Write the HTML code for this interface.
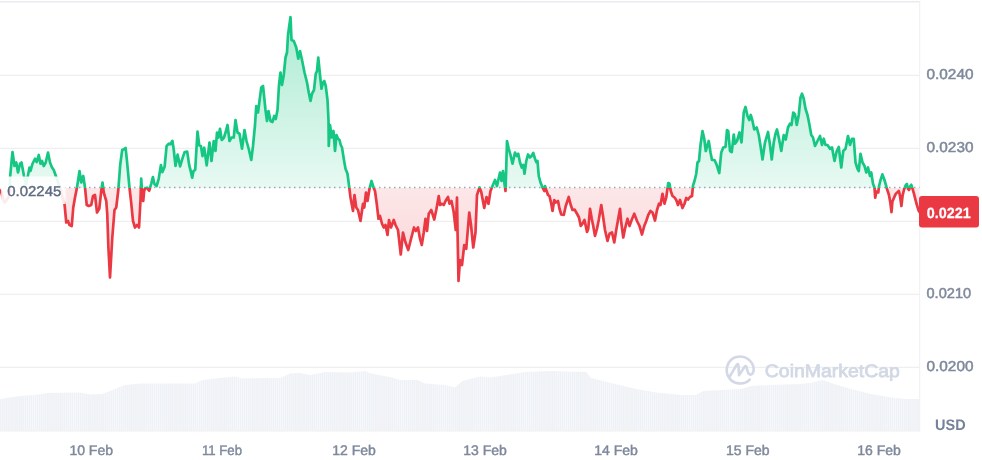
<!DOCTYPE html>
<html><head><meta charset="utf-8"><title>Chart</title>
<style>
html,body{margin:0;padding:0;background:#fff;}
body{width:982px;height:460px;overflow:hidden;font-family:"Liberation Sans", sans-serif;}
svg{display:block;will-change:transform}
text{font-family:"Liberation Sans", sans-serif;text-rendering:geometricPrecision;}
</style></head><body>
<svg width="982" height="460" viewBox="0 0 982 460">
<defs>
<linearGradient id="gg" gradientUnits="userSpaceOnUse" x1="0" y1="15" x2="0" y2="188">
<stop offset="0" stop-color="#16c784" stop-opacity="0.36"/>
<stop offset="1" stop-color="#16c784" stop-opacity="0.10"/>
</linearGradient>
<linearGradient id="rg" gradientUnits="userSpaceOnUse" x1="0" y1="188" x2="0" y2="282">
<stop offset="0" stop-color="#ea3943" stop-opacity="0.12"/>
<stop offset="1" stop-color="#ea3943" stop-opacity="0.22"/>
</linearGradient>
<linearGradient id="lb" gradientUnits="userSpaceOnUse" x1="1" y1="0" x2="67" y2="0">
<stop offset="0" stop-color="#fff" stop-opacity="0.9"/>
<stop offset="0.96" stop-color="#fff" stop-opacity="0.9"/>
<stop offset="1" stop-color="#fff" stop-opacity="0"/>
</linearGradient>
<pattern id="vp" patternUnits="userSpaceOnUse" x="0" y="0" width="2.05" height="10">
<rect x="0" y="0" width="1.6" height="10" fill="#eef1f5"/>
<rect x="1.6" y="0" width="0.45" height="10" fill="#f6f7fa"/>
</pattern>
<clipPath id="cu"><rect x="0" y="0" width="919.5" height="188.0"/></clipPath>
<clipPath id="cd"><rect x="0" y="188.0" width="919.5" height="272.0"/></clipPath>
</defs>
<rect width="982" height="460" fill="#ffffff"/>
<!-- volume -->
<path d="M0 430.3 L0 399 L10 397.5 L20 396 L35 395 L47.5 393 L80 392.5 L90 394.5 L102.5 394 L115 389 L125 385 L140 383.5 L195 383.5 L202.5 380 L220 378 L235 376.5 L242.5 378.5 L280 378 L290 373.5 L300 373 L310 375 L325 372 L350 372.5 L365 371 L372.5 374 L390 377 L400 380 L417.5 380 L425 383.5 L445 385 L455 387.5 L462.5 381 L480 376.5 L491 377.5 L506 375 L526 372 L551 371 L586 372 L591 378 L611 383 L636 389 L656 392.5 L681 395 L696 395 L703.5 391 L741 389 L751 386 L771 385 L801 384 L812 382.5 L818 381 L822 380 L827 381.5 L834 384 L851 389 L871 394 L891 397.5 L906 399 L919.5 399 L919.5 430.3 Z" fill="url(#vp)"/>
<!-- grid -->
<g stroke="#ececec" stroke-width="1">
<line x1="0" y1="75.3" x2="919.5" y2="75.3"/>
<line x1="0" y1="148.3" x2="919.5" y2="148.3"/>
<line x1="0" y1="221.3" x2="919.5" y2="221.3"/>
<line x1="0" y1="294.3" x2="919.5" y2="294.3"/>
<line x1="0" y1="367.3" x2="919.5" y2="367.3"/>
</g>
<line x1="0" y1="430.9" x2="920.2" y2="430.9" stroke="#efefef" stroke-width="1.2"/>
<line x1="0" y1="1.8" x2="920.2" y2="1.8" stroke="#dfe2e7" stroke-width="1"/>
<line x1="919.7" y1="1.3" x2="919.7" y2="431" stroke="#edeff2" stroke-width="1"/>
<!-- watermark -->
<g fill="none" stroke="#d2d8e5" stroke-width="2.6" stroke-linecap="round" stroke-linejoin="round">
<path d="M749.75 379.55 A13.5 13.5 0 1 1 753.68 369.3 C753.9 373.3 751.4 375.3 749.5 374.4 C748.1 373.7 747.7 372.2 747.4 370.7 L746.6 367.2 Q745.9 365 744.6 366.7 L739 375.2 L738.5 365.6 Q738 362.6 736.5 365.1 L729.3 377.2"/>
</g>
<text x="764.8" y="377.2" font-size="18" font-weight="400" fill="#d2d8e5" stroke="#d2d8e5" stroke-width="0.75" textLength="135" lengthAdjust="spacingAndGlyphs">CoinMarketCap</text>
<!-- areas -->
<path d="M0 190.5 L1.5 193 L3 199 L4.5 202.6 L6 201 L8.7 196.8 L9.75 188.5 L10.2 176 L12.5 152 L14.5 166 L16.25 162.5 L18 172.5 L20 163.75 L21.5 162.5 L24 176 L26 184.5 L28 175 L29.5 167.5 L30.5 171 L32.5 163.75 L35 158.75 L36.75 162 L38.75 155 L40.5 163.75 L42 161 L43.75 166 L45.75 162.5 L48 152.5 L50 162.5 L52 167.5 L53.75 170 L55.5 175 L58 182 L60 188 L62.5 198 L64.5 203.75 L66.25 222.5 L68 221 L69.5 225 L71.75 226 L73.25 207.5 L75 197.5 L77 187.5 L79.5 171 L81.25 182.5 L83.25 176 L85 187.5 L86.75 205 L88.75 206 L91.25 205 L93 196 L95 195 L97 212.5 L99.25 208.75 L101.25 191 L102.5 182.5 L103.75 192.5 L106.25 201 L107.25 214 L108.4 247.5 L110 277.5 L112.3 237.5 L114.5 210 L116.25 207.5 L118.3 190 L120.2 165 L122.2 150 L123.9 149.2 L125.6 148 L126.9 160.1 L129.4 186.9 L131.1 201.9 L133 221 L135 227.5 L137 225 L139 227.5 L140.5 200 L141.2 178.5 L142 190 L143.2 201 L144.2 190.5 L145.3 188.5 L147 187.6 L149.2 190.7 L151.2 183.8 L152.9 177.1 L154.5 184.3 L156.6 186 L158.7 178.8 L160.9 165.1 L162.4 172.1 L164.6 166.8 L166.6 145.9 L168.8 143.7 L170.4 144.2 L172.4 140.8 L173.8 150 L175.5 165.9 L177.6 154.7 L180.1 166.4 L182.7 157.6 L184.7 152 L187.2 151.7 L189.2 165.1 L190.5 170.1 L192.2 177.7 L193.5 171 L195.2 169.8 L197.5 131.5 L199.2 145.2 L200.9 146 L202.5 156.1 L204.2 147.7 L206.7 165.3 L209.5 142.5 L211.5 161 L213.75 141 L215.5 151 L217 132.5 L218.5 137.5 L220 128.75 L221.75 140 L224 137.5 L226 131 L227.5 125 L229.5 141 L231.5 137.5 L233.75 137.5 L235.5 120 L237.5 132.5 L239.5 133.75 L242 148.75 L244.5 130 L246.5 141 L249 150 L251.25 160 L253 146 L255 125 L256.25 106 L258 112.5 L261.25 87.5 L263 86 L265.5 110 L267 121 L268.5 111 L270.5 121 L272.5 122 L274.25 116 L275.75 119 L277.5 110 L279 85 L280.5 72.5 L282 85 L283.75 75 L285.5 57.5 L287 52.5 L288 35 L290.5 17 L291.5 40 L293.75 41 L296.25 47.5 L298.25 58.75 L300 51 L301.75 58.75 L304.5 72.5 L307 82.5 L308.75 92.5 L310.5 101 L312 93.75 L314 90 L315.75 73.75 L317 71 L318.25 57.5 L320 75 L321.5 88.75 L323 82.5 L324.25 81 L325.75 86 L327.5 100 L328.5 120 L328.75 146 L330 125 L331.75 137.5 L333.5 131 L335 151 L336.5 135 L338 138.75 L339.5 140 L340.75 145 L342 147.5 L343.75 158.75 L345.5 168.75 L347.5 173.75 L349.25 187.5 L350.5 197.5 L353 211 L354.5 195 L356.25 207.5 L358 210 L360.5 221 L363 203.75 L364.25 207.5 L366 192.5 L367.5 201 L369.5 188.75 L371.5 181 L373.5 187.5 L375 191 L376.75 203.75 L378.5 218.75 L380 216 L382 223.75 L383.75 227.5 L385.5 225 L387.5 235 L389 220 L391 227.5 L393.75 220 L395.5 225 L398 230 L400.75 254.5 L403 232.5 L405.5 242.5 L408.25 250 L410.75 240 L414 227.5 L415.75 231 L418 227.5 L420 238.75 L421.75 245 L423.75 232.5 L425.5 218.75 L427 231 L428.75 213.75 L431.25 210 L434.25 219.5 L436.25 210 L438.75 196 L440 205 L442 203.75 L443.75 205 L445.5 201 L448 197 L449.5 203.75 L451.5 201 L453.75 212.5 L455.75 230 L457 197.5 L457.5 230 L458.5 281 L460 260 L462 265 L464.25 245 L466.25 248.75 L469.25 212.5 L471 225 L473.25 247.5 L475.5 232.5 L477 195 L479.5 187.5 L481.25 192 L484.25 208 L486.5 197 L488.5 203.75 L490.5 191 L492.5 186 L495 180 L497 186 L500 172.5 L501.5 181 L503 171 L504.5 183.75 L505.5 191 L506.25 167.5 L507 141 L508.75 148.75 L510.5 155 L512.5 163.75 L515 152.5 L516.75 156 L518.25 153.75 L520 162.5 L521.75 167.5 L523.25 165 L524.5 173.75 L526.25 161 L528 154.5 L530 157.5 L531.5 156 L533.25 153 L535 158.75 L536.25 162 L537.5 161 L538.75 176 L540.5 182.5 L542.5 187.5 L544.25 191 L545 186 L546.25 190 L548 195 L549.5 196 L551.25 203.75 L552.5 211 L554.25 200 L555.75 202.5 L558 201 L559.5 208.75 L561.25 214.5 L563.75 215 L565.75 206 L568.75 197 L570.75 205 L572.5 210 L574.5 209.5 L577 213.75 L579 217.5 L580.75 226 L582.5 223.75 L584.5 220 L587 232 L588.25 228.75 L590 208.75 L591.75 218.75 L593.25 226 L595 236 L597 228.75 L598.75 220 L601.25 205 L603 216 L605 230 L607.5 241 L609.5 233.75 L612 232.5 L614.25 242.5 L616.25 230 L618 220 L620 208.75 L621.25 222.5 L623.25 237.5 L625 228.75 L627.5 218.75 L629.5 226 L631.25 221 L634.25 213.75 L637 221 L639.5 226 L642 234.5 L644.25 226 L646.25 221 L648.25 215 L650.5 211 L652.5 212.5 L655 220.5 L657 210 L659 203.75 L660.5 205 L662.5 193.75 L664.5 203.75 L666.25 197.5 L668.25 183 L669.5 183.75 L670.75 191 L672.5 196 L674.5 197.5 L676.25 200 L678 205 L680 200 L682.5 208 L684.5 203.75 L686.25 198 L688 199.5 L690 197 L692 196 L693 185.5 L694.5 181 L696.25 173.75 L697.5 162.5 L699 161 L700.5 145 L702.5 131 L704.25 138.75 L705.75 151 L707.5 145 L708.75 141 L710.5 152.5 L712 160 L714.5 160 L716.75 165 L719.25 173 L721.25 152.5 L723.25 147.5 L725.5 147 L727 130 L728.25 131 L730 151 L731.75 152 L733.75 134.5 L735 143.75 L737 141 L739.5 132.5 L741.5 142.5 L743.75 112.5 L745.5 107 L747.5 116 L749.25 120 L750.75 115 L752.5 121 L754.25 129.5 L756.75 127.5 L758.75 135 L760.75 147.5 L762.5 159.5 L765 142.5 L768 132 L770 145 L771.75 159.5 L773.75 142.5 L775.5 133.75 L777 129.5 L778.75 137.5 L781.25 151 L783.75 135 L785.75 139.5 L788 127.5 L790 123.75 L791.5 125 L793.25 112.5 L795 114.5 L796.75 125 L798.75 115 L800.5 97.5 L802 93.75 L803.75 98.75 L805.5 108.75 L807.5 115 L809.25 123.75 L811.25 135 L813 137.5 L815 146 L817.5 141 L820 136 L822 145 L823.75 138.75 L825.5 145 L827.5 145 L830 148.75 L832 147.5 L834.5 161 L836.75 151 L838.75 147 L841.25 167.5 L843.25 151 L845.5 148.75 L848 136 L850 145 L852 138.75 L853.75 138.75 L855.5 162.5 L857.5 168.75 L858.75 171 L860.5 153.75 L862.5 162.5 L864.5 166 L866.25 172.5 L868 167.5 L870 176 L871.25 172.5 L873 183.75 L874.5 187.8 L875.2 197.7 L876.4 191.6 L878.3 192.4 L879 186.3 L880.5 180.2 L882.4 174.4 L884.3 179.5 L885.9 184.8 L886.6 187.8 L888.9 194.7 L890.4 203 L891.5 212.2 L892.4 201.5 L895.7 193.9 L898.8 190.9 L899.9 195.4 L901.4 206 L902.6 195.4 L904.1 189.3 L905.6 185.5 L906.9 184 L907.9 188.6 L909 190 L910.2 186.3 L911.3 184.8 L912.5 188.6 L914 193.9 L916.3 203 L918.6 210.6 L919.5 212 L919.5 188 L0 188 Z" fill="#ffffff" opacity="0.92"/>
<path d="M0 190.5 L1.5 193 L3 199 L4.5 202.6 L6 201 L8.7 196.8 L9.75 188.5 L10.2 176 L12.5 152 L14.5 166 L16.25 162.5 L18 172.5 L20 163.75 L21.5 162.5 L24 176 L26 184.5 L28 175 L29.5 167.5 L30.5 171 L32.5 163.75 L35 158.75 L36.75 162 L38.75 155 L40.5 163.75 L42 161 L43.75 166 L45.75 162.5 L48 152.5 L50 162.5 L52 167.5 L53.75 170 L55.5 175 L58 182 L60 188 L62.5 198 L64.5 203.75 L66.25 222.5 L68 221 L69.5 225 L71.75 226 L73.25 207.5 L75 197.5 L77 187.5 L79.5 171 L81.25 182.5 L83.25 176 L85 187.5 L86.75 205 L88.75 206 L91.25 205 L93 196 L95 195 L97 212.5 L99.25 208.75 L101.25 191 L102.5 182.5 L103.75 192.5 L106.25 201 L107.25 214 L108.4 247.5 L110 277.5 L112.3 237.5 L114.5 210 L116.25 207.5 L118.3 190 L120.2 165 L122.2 150 L123.9 149.2 L125.6 148 L126.9 160.1 L129.4 186.9 L131.1 201.9 L133 221 L135 227.5 L137 225 L139 227.5 L140.5 200 L141.2 178.5 L142 190 L143.2 201 L144.2 190.5 L145.3 188.5 L147 187.6 L149.2 190.7 L151.2 183.8 L152.9 177.1 L154.5 184.3 L156.6 186 L158.7 178.8 L160.9 165.1 L162.4 172.1 L164.6 166.8 L166.6 145.9 L168.8 143.7 L170.4 144.2 L172.4 140.8 L173.8 150 L175.5 165.9 L177.6 154.7 L180.1 166.4 L182.7 157.6 L184.7 152 L187.2 151.7 L189.2 165.1 L190.5 170.1 L192.2 177.7 L193.5 171 L195.2 169.8 L197.5 131.5 L199.2 145.2 L200.9 146 L202.5 156.1 L204.2 147.7 L206.7 165.3 L209.5 142.5 L211.5 161 L213.75 141 L215.5 151 L217 132.5 L218.5 137.5 L220 128.75 L221.75 140 L224 137.5 L226 131 L227.5 125 L229.5 141 L231.5 137.5 L233.75 137.5 L235.5 120 L237.5 132.5 L239.5 133.75 L242 148.75 L244.5 130 L246.5 141 L249 150 L251.25 160 L253 146 L255 125 L256.25 106 L258 112.5 L261.25 87.5 L263 86 L265.5 110 L267 121 L268.5 111 L270.5 121 L272.5 122 L274.25 116 L275.75 119 L277.5 110 L279 85 L280.5 72.5 L282 85 L283.75 75 L285.5 57.5 L287 52.5 L288 35 L290.5 17 L291.5 40 L293.75 41 L296.25 47.5 L298.25 58.75 L300 51 L301.75 58.75 L304.5 72.5 L307 82.5 L308.75 92.5 L310.5 101 L312 93.75 L314 90 L315.75 73.75 L317 71 L318.25 57.5 L320 75 L321.5 88.75 L323 82.5 L324.25 81 L325.75 86 L327.5 100 L328.5 120 L328.75 146 L330 125 L331.75 137.5 L333.5 131 L335 151 L336.5 135 L338 138.75 L339.5 140 L340.75 145 L342 147.5 L343.75 158.75 L345.5 168.75 L347.5 173.75 L349.25 187.5 L350.5 197.5 L353 211 L354.5 195 L356.25 207.5 L358 210 L360.5 221 L363 203.75 L364.25 207.5 L366 192.5 L367.5 201 L369.5 188.75 L371.5 181 L373.5 187.5 L375 191 L376.75 203.75 L378.5 218.75 L380 216 L382 223.75 L383.75 227.5 L385.5 225 L387.5 235 L389 220 L391 227.5 L393.75 220 L395.5 225 L398 230 L400.75 254.5 L403 232.5 L405.5 242.5 L408.25 250 L410.75 240 L414 227.5 L415.75 231 L418 227.5 L420 238.75 L421.75 245 L423.75 232.5 L425.5 218.75 L427 231 L428.75 213.75 L431.25 210 L434.25 219.5 L436.25 210 L438.75 196 L440 205 L442 203.75 L443.75 205 L445.5 201 L448 197 L449.5 203.75 L451.5 201 L453.75 212.5 L455.75 230 L457 197.5 L457.5 230 L458.5 281 L460 260 L462 265 L464.25 245 L466.25 248.75 L469.25 212.5 L471 225 L473.25 247.5 L475.5 232.5 L477 195 L479.5 187.5 L481.25 192 L484.25 208 L486.5 197 L488.5 203.75 L490.5 191 L492.5 186 L495 180 L497 186 L500 172.5 L501.5 181 L503 171 L504.5 183.75 L505.5 191 L506.25 167.5 L507 141 L508.75 148.75 L510.5 155 L512.5 163.75 L515 152.5 L516.75 156 L518.25 153.75 L520 162.5 L521.75 167.5 L523.25 165 L524.5 173.75 L526.25 161 L528 154.5 L530 157.5 L531.5 156 L533.25 153 L535 158.75 L536.25 162 L537.5 161 L538.75 176 L540.5 182.5 L542.5 187.5 L544.25 191 L545 186 L546.25 190 L548 195 L549.5 196 L551.25 203.75 L552.5 211 L554.25 200 L555.75 202.5 L558 201 L559.5 208.75 L561.25 214.5 L563.75 215 L565.75 206 L568.75 197 L570.75 205 L572.5 210 L574.5 209.5 L577 213.75 L579 217.5 L580.75 226 L582.5 223.75 L584.5 220 L587 232 L588.25 228.75 L590 208.75 L591.75 218.75 L593.25 226 L595 236 L597 228.75 L598.75 220 L601.25 205 L603 216 L605 230 L607.5 241 L609.5 233.75 L612 232.5 L614.25 242.5 L616.25 230 L618 220 L620 208.75 L621.25 222.5 L623.25 237.5 L625 228.75 L627.5 218.75 L629.5 226 L631.25 221 L634.25 213.75 L637 221 L639.5 226 L642 234.5 L644.25 226 L646.25 221 L648.25 215 L650.5 211 L652.5 212.5 L655 220.5 L657 210 L659 203.75 L660.5 205 L662.5 193.75 L664.5 203.75 L666.25 197.5 L668.25 183 L669.5 183.75 L670.75 191 L672.5 196 L674.5 197.5 L676.25 200 L678 205 L680 200 L682.5 208 L684.5 203.75 L686.25 198 L688 199.5 L690 197 L692 196 L693 185.5 L694.5 181 L696.25 173.75 L697.5 162.5 L699 161 L700.5 145 L702.5 131 L704.25 138.75 L705.75 151 L707.5 145 L708.75 141 L710.5 152.5 L712 160 L714.5 160 L716.75 165 L719.25 173 L721.25 152.5 L723.25 147.5 L725.5 147 L727 130 L728.25 131 L730 151 L731.75 152 L733.75 134.5 L735 143.75 L737 141 L739.5 132.5 L741.5 142.5 L743.75 112.5 L745.5 107 L747.5 116 L749.25 120 L750.75 115 L752.5 121 L754.25 129.5 L756.75 127.5 L758.75 135 L760.75 147.5 L762.5 159.5 L765 142.5 L768 132 L770 145 L771.75 159.5 L773.75 142.5 L775.5 133.75 L777 129.5 L778.75 137.5 L781.25 151 L783.75 135 L785.75 139.5 L788 127.5 L790 123.75 L791.5 125 L793.25 112.5 L795 114.5 L796.75 125 L798.75 115 L800.5 97.5 L802 93.75 L803.75 98.75 L805.5 108.75 L807.5 115 L809.25 123.75 L811.25 135 L813 137.5 L815 146 L817.5 141 L820 136 L822 145 L823.75 138.75 L825.5 145 L827.5 145 L830 148.75 L832 147.5 L834.5 161 L836.75 151 L838.75 147 L841.25 167.5 L843.25 151 L845.5 148.75 L848 136 L850 145 L852 138.75 L853.75 138.75 L855.5 162.5 L857.5 168.75 L858.75 171 L860.5 153.75 L862.5 162.5 L864.5 166 L866.25 172.5 L868 167.5 L870 176 L871.25 172.5 L873 183.75 L874.5 187.8 L875.2 197.7 L876.4 191.6 L878.3 192.4 L879 186.3 L880.5 180.2 L882.4 174.4 L884.3 179.5 L885.9 184.8 L886.6 187.8 L888.9 194.7 L890.4 203 L891.5 212.2 L892.4 201.5 L895.7 193.9 L898.8 190.9 L899.9 195.4 L901.4 206 L902.6 195.4 L904.1 189.3 L905.6 185.5 L906.9 184 L907.9 188.6 L909 190 L910.2 186.3 L911.3 184.8 L912.5 188.6 L914 193.9 L916.3 203 L918.6 210.6 L919.5 212 L919.5 188 L0 188 Z" fill="url(#gg)" clip-path="url(#cu)"/>
<path d="M0 190.5 L1.5 193 L3 199 L4.5 202.6 L6 201 L8.7 196.8 L9.75 188.5 L10.2 176 L12.5 152 L14.5 166 L16.25 162.5 L18 172.5 L20 163.75 L21.5 162.5 L24 176 L26 184.5 L28 175 L29.5 167.5 L30.5 171 L32.5 163.75 L35 158.75 L36.75 162 L38.75 155 L40.5 163.75 L42 161 L43.75 166 L45.75 162.5 L48 152.5 L50 162.5 L52 167.5 L53.75 170 L55.5 175 L58 182 L60 188 L62.5 198 L64.5 203.75 L66.25 222.5 L68 221 L69.5 225 L71.75 226 L73.25 207.5 L75 197.5 L77 187.5 L79.5 171 L81.25 182.5 L83.25 176 L85 187.5 L86.75 205 L88.75 206 L91.25 205 L93 196 L95 195 L97 212.5 L99.25 208.75 L101.25 191 L102.5 182.5 L103.75 192.5 L106.25 201 L107.25 214 L108.4 247.5 L110 277.5 L112.3 237.5 L114.5 210 L116.25 207.5 L118.3 190 L120.2 165 L122.2 150 L123.9 149.2 L125.6 148 L126.9 160.1 L129.4 186.9 L131.1 201.9 L133 221 L135 227.5 L137 225 L139 227.5 L140.5 200 L141.2 178.5 L142 190 L143.2 201 L144.2 190.5 L145.3 188.5 L147 187.6 L149.2 190.7 L151.2 183.8 L152.9 177.1 L154.5 184.3 L156.6 186 L158.7 178.8 L160.9 165.1 L162.4 172.1 L164.6 166.8 L166.6 145.9 L168.8 143.7 L170.4 144.2 L172.4 140.8 L173.8 150 L175.5 165.9 L177.6 154.7 L180.1 166.4 L182.7 157.6 L184.7 152 L187.2 151.7 L189.2 165.1 L190.5 170.1 L192.2 177.7 L193.5 171 L195.2 169.8 L197.5 131.5 L199.2 145.2 L200.9 146 L202.5 156.1 L204.2 147.7 L206.7 165.3 L209.5 142.5 L211.5 161 L213.75 141 L215.5 151 L217 132.5 L218.5 137.5 L220 128.75 L221.75 140 L224 137.5 L226 131 L227.5 125 L229.5 141 L231.5 137.5 L233.75 137.5 L235.5 120 L237.5 132.5 L239.5 133.75 L242 148.75 L244.5 130 L246.5 141 L249 150 L251.25 160 L253 146 L255 125 L256.25 106 L258 112.5 L261.25 87.5 L263 86 L265.5 110 L267 121 L268.5 111 L270.5 121 L272.5 122 L274.25 116 L275.75 119 L277.5 110 L279 85 L280.5 72.5 L282 85 L283.75 75 L285.5 57.5 L287 52.5 L288 35 L290.5 17 L291.5 40 L293.75 41 L296.25 47.5 L298.25 58.75 L300 51 L301.75 58.75 L304.5 72.5 L307 82.5 L308.75 92.5 L310.5 101 L312 93.75 L314 90 L315.75 73.75 L317 71 L318.25 57.5 L320 75 L321.5 88.75 L323 82.5 L324.25 81 L325.75 86 L327.5 100 L328.5 120 L328.75 146 L330 125 L331.75 137.5 L333.5 131 L335 151 L336.5 135 L338 138.75 L339.5 140 L340.75 145 L342 147.5 L343.75 158.75 L345.5 168.75 L347.5 173.75 L349.25 187.5 L350.5 197.5 L353 211 L354.5 195 L356.25 207.5 L358 210 L360.5 221 L363 203.75 L364.25 207.5 L366 192.5 L367.5 201 L369.5 188.75 L371.5 181 L373.5 187.5 L375 191 L376.75 203.75 L378.5 218.75 L380 216 L382 223.75 L383.75 227.5 L385.5 225 L387.5 235 L389 220 L391 227.5 L393.75 220 L395.5 225 L398 230 L400.75 254.5 L403 232.5 L405.5 242.5 L408.25 250 L410.75 240 L414 227.5 L415.75 231 L418 227.5 L420 238.75 L421.75 245 L423.75 232.5 L425.5 218.75 L427 231 L428.75 213.75 L431.25 210 L434.25 219.5 L436.25 210 L438.75 196 L440 205 L442 203.75 L443.75 205 L445.5 201 L448 197 L449.5 203.75 L451.5 201 L453.75 212.5 L455.75 230 L457 197.5 L457.5 230 L458.5 281 L460 260 L462 265 L464.25 245 L466.25 248.75 L469.25 212.5 L471 225 L473.25 247.5 L475.5 232.5 L477 195 L479.5 187.5 L481.25 192 L484.25 208 L486.5 197 L488.5 203.75 L490.5 191 L492.5 186 L495 180 L497 186 L500 172.5 L501.5 181 L503 171 L504.5 183.75 L505.5 191 L506.25 167.5 L507 141 L508.75 148.75 L510.5 155 L512.5 163.75 L515 152.5 L516.75 156 L518.25 153.75 L520 162.5 L521.75 167.5 L523.25 165 L524.5 173.75 L526.25 161 L528 154.5 L530 157.5 L531.5 156 L533.25 153 L535 158.75 L536.25 162 L537.5 161 L538.75 176 L540.5 182.5 L542.5 187.5 L544.25 191 L545 186 L546.25 190 L548 195 L549.5 196 L551.25 203.75 L552.5 211 L554.25 200 L555.75 202.5 L558 201 L559.5 208.75 L561.25 214.5 L563.75 215 L565.75 206 L568.75 197 L570.75 205 L572.5 210 L574.5 209.5 L577 213.75 L579 217.5 L580.75 226 L582.5 223.75 L584.5 220 L587 232 L588.25 228.75 L590 208.75 L591.75 218.75 L593.25 226 L595 236 L597 228.75 L598.75 220 L601.25 205 L603 216 L605 230 L607.5 241 L609.5 233.75 L612 232.5 L614.25 242.5 L616.25 230 L618 220 L620 208.75 L621.25 222.5 L623.25 237.5 L625 228.75 L627.5 218.75 L629.5 226 L631.25 221 L634.25 213.75 L637 221 L639.5 226 L642 234.5 L644.25 226 L646.25 221 L648.25 215 L650.5 211 L652.5 212.5 L655 220.5 L657 210 L659 203.75 L660.5 205 L662.5 193.75 L664.5 203.75 L666.25 197.5 L668.25 183 L669.5 183.75 L670.75 191 L672.5 196 L674.5 197.5 L676.25 200 L678 205 L680 200 L682.5 208 L684.5 203.75 L686.25 198 L688 199.5 L690 197 L692 196 L693 185.5 L694.5 181 L696.25 173.75 L697.5 162.5 L699 161 L700.5 145 L702.5 131 L704.25 138.75 L705.75 151 L707.5 145 L708.75 141 L710.5 152.5 L712 160 L714.5 160 L716.75 165 L719.25 173 L721.25 152.5 L723.25 147.5 L725.5 147 L727 130 L728.25 131 L730 151 L731.75 152 L733.75 134.5 L735 143.75 L737 141 L739.5 132.5 L741.5 142.5 L743.75 112.5 L745.5 107 L747.5 116 L749.25 120 L750.75 115 L752.5 121 L754.25 129.5 L756.75 127.5 L758.75 135 L760.75 147.5 L762.5 159.5 L765 142.5 L768 132 L770 145 L771.75 159.5 L773.75 142.5 L775.5 133.75 L777 129.5 L778.75 137.5 L781.25 151 L783.75 135 L785.75 139.5 L788 127.5 L790 123.75 L791.5 125 L793.25 112.5 L795 114.5 L796.75 125 L798.75 115 L800.5 97.5 L802 93.75 L803.75 98.75 L805.5 108.75 L807.5 115 L809.25 123.75 L811.25 135 L813 137.5 L815 146 L817.5 141 L820 136 L822 145 L823.75 138.75 L825.5 145 L827.5 145 L830 148.75 L832 147.5 L834.5 161 L836.75 151 L838.75 147 L841.25 167.5 L843.25 151 L845.5 148.75 L848 136 L850 145 L852 138.75 L853.75 138.75 L855.5 162.5 L857.5 168.75 L858.75 171 L860.5 153.75 L862.5 162.5 L864.5 166 L866.25 172.5 L868 167.5 L870 176 L871.25 172.5 L873 183.75 L874.5 187.8 L875.2 197.7 L876.4 191.6 L878.3 192.4 L879 186.3 L880.5 180.2 L882.4 174.4 L884.3 179.5 L885.9 184.8 L886.6 187.8 L888.9 194.7 L890.4 203 L891.5 212.2 L892.4 201.5 L895.7 193.9 L898.8 190.9 L899.9 195.4 L901.4 206 L902.6 195.4 L904.1 189.3 L905.6 185.5 L906.9 184 L907.9 188.6 L909 190 L910.2 186.3 L911.3 184.8 L912.5 188.6 L914 193.9 L916.3 203 L918.6 210.6 L919.5 212 L919.5 188 L0 188 Z" fill="url(#rg)" clip-path="url(#cd)"/>
<!-- baseline -->
<line x1="4" y1="187.6" x2="919.5" y2="187.6" stroke="#a0a5b0" stroke-width="1.5" stroke-dasharray="1.5 3.5"/>
<!-- lines -->
<path d="M0 190.5 L1.5 193 L3 199 L4.5 202.6 L6 201 L8.7 196.8 L9.75 188.5 L10.2 176 L12.5 152 L14.5 166 L16.25 162.5 L18 172.5 L20 163.75 L21.5 162.5 L24 176 L26 184.5 L28 175 L29.5 167.5 L30.5 171 L32.5 163.75 L35 158.75 L36.75 162 L38.75 155 L40.5 163.75 L42 161 L43.75 166 L45.75 162.5 L48 152.5 L50 162.5 L52 167.5 L53.75 170 L55.5 175 L58 182 L60 188 L62.5 198 L64.5 203.75 L66.25 222.5 L68 221 L69.5 225 L71.75 226 L73.25 207.5 L75 197.5 L77 187.5 L79.5 171 L81.25 182.5 L83.25 176 L85 187.5 L86.75 205 L88.75 206 L91.25 205 L93 196 L95 195 L97 212.5 L99.25 208.75 L101.25 191 L102.5 182.5 L103.75 192.5 L106.25 201 L107.25 214 L108.4 247.5 L110 277.5 L112.3 237.5 L114.5 210 L116.25 207.5 L118.3 190 L120.2 165 L122.2 150 L123.9 149.2 L125.6 148 L126.9 160.1 L129.4 186.9 L131.1 201.9 L133 221 L135 227.5 L137 225 L139 227.5 L140.5 200 L141.2 178.5 L142 190 L143.2 201 L144.2 190.5 L145.3 188.5 L147 187.6 L149.2 190.7 L151.2 183.8 L152.9 177.1 L154.5 184.3 L156.6 186 L158.7 178.8 L160.9 165.1 L162.4 172.1 L164.6 166.8 L166.6 145.9 L168.8 143.7 L170.4 144.2 L172.4 140.8 L173.8 150 L175.5 165.9 L177.6 154.7 L180.1 166.4 L182.7 157.6 L184.7 152 L187.2 151.7 L189.2 165.1 L190.5 170.1 L192.2 177.7 L193.5 171 L195.2 169.8 L197.5 131.5 L199.2 145.2 L200.9 146 L202.5 156.1 L204.2 147.7 L206.7 165.3 L209.5 142.5 L211.5 161 L213.75 141 L215.5 151 L217 132.5 L218.5 137.5 L220 128.75 L221.75 140 L224 137.5 L226 131 L227.5 125 L229.5 141 L231.5 137.5 L233.75 137.5 L235.5 120 L237.5 132.5 L239.5 133.75 L242 148.75 L244.5 130 L246.5 141 L249 150 L251.25 160 L253 146 L255 125 L256.25 106 L258 112.5 L261.25 87.5 L263 86 L265.5 110 L267 121 L268.5 111 L270.5 121 L272.5 122 L274.25 116 L275.75 119 L277.5 110 L279 85 L280.5 72.5 L282 85 L283.75 75 L285.5 57.5 L287 52.5 L288 35 L290.5 17 L291.5 40 L293.75 41 L296.25 47.5 L298.25 58.75 L300 51 L301.75 58.75 L304.5 72.5 L307 82.5 L308.75 92.5 L310.5 101 L312 93.75 L314 90 L315.75 73.75 L317 71 L318.25 57.5 L320 75 L321.5 88.75 L323 82.5 L324.25 81 L325.75 86 L327.5 100 L328.5 120 L328.75 146 L330 125 L331.75 137.5 L333.5 131 L335 151 L336.5 135 L338 138.75 L339.5 140 L340.75 145 L342 147.5 L343.75 158.75 L345.5 168.75 L347.5 173.75 L349.25 187.5 L350.5 197.5 L353 211 L354.5 195 L356.25 207.5 L358 210 L360.5 221 L363 203.75 L364.25 207.5 L366 192.5 L367.5 201 L369.5 188.75 L371.5 181 L373.5 187.5 L375 191 L376.75 203.75 L378.5 218.75 L380 216 L382 223.75 L383.75 227.5 L385.5 225 L387.5 235 L389 220 L391 227.5 L393.75 220 L395.5 225 L398 230 L400.75 254.5 L403 232.5 L405.5 242.5 L408.25 250 L410.75 240 L414 227.5 L415.75 231 L418 227.5 L420 238.75 L421.75 245 L423.75 232.5 L425.5 218.75 L427 231 L428.75 213.75 L431.25 210 L434.25 219.5 L436.25 210 L438.75 196 L440 205 L442 203.75 L443.75 205 L445.5 201 L448 197 L449.5 203.75 L451.5 201 L453.75 212.5 L455.75 230 L457 197.5 L457.5 230 L458.5 281 L460 260 L462 265 L464.25 245 L466.25 248.75 L469.25 212.5 L471 225 L473.25 247.5 L475.5 232.5 L477 195 L479.5 187.5 L481.25 192 L484.25 208 L486.5 197 L488.5 203.75 L490.5 191 L492.5 186 L495 180 L497 186 L500 172.5 L501.5 181 L503 171 L504.5 183.75 L505.5 191 L506.25 167.5 L507 141 L508.75 148.75 L510.5 155 L512.5 163.75 L515 152.5 L516.75 156 L518.25 153.75 L520 162.5 L521.75 167.5 L523.25 165 L524.5 173.75 L526.25 161 L528 154.5 L530 157.5 L531.5 156 L533.25 153 L535 158.75 L536.25 162 L537.5 161 L538.75 176 L540.5 182.5 L542.5 187.5 L544.25 191 L545 186 L546.25 190 L548 195 L549.5 196 L551.25 203.75 L552.5 211 L554.25 200 L555.75 202.5 L558 201 L559.5 208.75 L561.25 214.5 L563.75 215 L565.75 206 L568.75 197 L570.75 205 L572.5 210 L574.5 209.5 L577 213.75 L579 217.5 L580.75 226 L582.5 223.75 L584.5 220 L587 232 L588.25 228.75 L590 208.75 L591.75 218.75 L593.25 226 L595 236 L597 228.75 L598.75 220 L601.25 205 L603 216 L605 230 L607.5 241 L609.5 233.75 L612 232.5 L614.25 242.5 L616.25 230 L618 220 L620 208.75 L621.25 222.5 L623.25 237.5 L625 228.75 L627.5 218.75 L629.5 226 L631.25 221 L634.25 213.75 L637 221 L639.5 226 L642 234.5 L644.25 226 L646.25 221 L648.25 215 L650.5 211 L652.5 212.5 L655 220.5 L657 210 L659 203.75 L660.5 205 L662.5 193.75 L664.5 203.75 L666.25 197.5 L668.25 183 L669.5 183.75 L670.75 191 L672.5 196 L674.5 197.5 L676.25 200 L678 205 L680 200 L682.5 208 L684.5 203.75 L686.25 198 L688 199.5 L690 197 L692 196 L693 185.5 L694.5 181 L696.25 173.75 L697.5 162.5 L699 161 L700.5 145 L702.5 131 L704.25 138.75 L705.75 151 L707.5 145 L708.75 141 L710.5 152.5 L712 160 L714.5 160 L716.75 165 L719.25 173 L721.25 152.5 L723.25 147.5 L725.5 147 L727 130 L728.25 131 L730 151 L731.75 152 L733.75 134.5 L735 143.75 L737 141 L739.5 132.5 L741.5 142.5 L743.75 112.5 L745.5 107 L747.5 116 L749.25 120 L750.75 115 L752.5 121 L754.25 129.5 L756.75 127.5 L758.75 135 L760.75 147.5 L762.5 159.5 L765 142.5 L768 132 L770 145 L771.75 159.5 L773.75 142.5 L775.5 133.75 L777 129.5 L778.75 137.5 L781.25 151 L783.75 135 L785.75 139.5 L788 127.5 L790 123.75 L791.5 125 L793.25 112.5 L795 114.5 L796.75 125 L798.75 115 L800.5 97.5 L802 93.75 L803.75 98.75 L805.5 108.75 L807.5 115 L809.25 123.75 L811.25 135 L813 137.5 L815 146 L817.5 141 L820 136 L822 145 L823.75 138.75 L825.5 145 L827.5 145 L830 148.75 L832 147.5 L834.5 161 L836.75 151 L838.75 147 L841.25 167.5 L843.25 151 L845.5 148.75 L848 136 L850 145 L852 138.75 L853.75 138.75 L855.5 162.5 L857.5 168.75 L858.75 171 L860.5 153.75 L862.5 162.5 L864.5 166 L866.25 172.5 L868 167.5 L870 176 L871.25 172.5 L873 183.75 L874.5 187.8 L875.2 197.7 L876.4 191.6 L878.3 192.4 L879 186.3 L880.5 180.2 L882.4 174.4 L884.3 179.5 L885.9 184.8 L886.6 187.8 L888.9 194.7 L890.4 203 L891.5 212.2 L892.4 201.5 L895.7 193.9 L898.8 190.9 L899.9 195.4 L901.4 206 L902.6 195.4 L904.1 189.3 L905.6 185.5 L906.9 184 L907.9 188.6 L909 190 L910.2 186.3 L911.3 184.8 L912.5 188.6 L914 193.9 L916.3 203 L918.6 210.6 L919.5 212" fill="none" stroke="#16c784" stroke-width="2.7" stroke-linejoin="round" stroke-linecap="round" clip-path="url(#cu)"/>
<path d="M0 190.5 L1.5 193 L3 199 L4.5 202.6 L6 201 L8.7 196.8 L9.75 188.5 L10.2 176 L12.5 152 L14.5 166 L16.25 162.5 L18 172.5 L20 163.75 L21.5 162.5 L24 176 L26 184.5 L28 175 L29.5 167.5 L30.5 171 L32.5 163.75 L35 158.75 L36.75 162 L38.75 155 L40.5 163.75 L42 161 L43.75 166 L45.75 162.5 L48 152.5 L50 162.5 L52 167.5 L53.75 170 L55.5 175 L58 182 L60 188 L62.5 198 L64.5 203.75 L66.25 222.5 L68 221 L69.5 225 L71.75 226 L73.25 207.5 L75 197.5 L77 187.5 L79.5 171 L81.25 182.5 L83.25 176 L85 187.5 L86.75 205 L88.75 206 L91.25 205 L93 196 L95 195 L97 212.5 L99.25 208.75 L101.25 191 L102.5 182.5 L103.75 192.5 L106.25 201 L107.25 214 L108.4 247.5 L110 277.5 L112.3 237.5 L114.5 210 L116.25 207.5 L118.3 190 L120.2 165 L122.2 150 L123.9 149.2 L125.6 148 L126.9 160.1 L129.4 186.9 L131.1 201.9 L133 221 L135 227.5 L137 225 L139 227.5 L140.5 200 L141.2 178.5 L142 190 L143.2 201 L144.2 190.5 L145.3 188.5 L147 187.6 L149.2 190.7 L151.2 183.8 L152.9 177.1 L154.5 184.3 L156.6 186 L158.7 178.8 L160.9 165.1 L162.4 172.1 L164.6 166.8 L166.6 145.9 L168.8 143.7 L170.4 144.2 L172.4 140.8 L173.8 150 L175.5 165.9 L177.6 154.7 L180.1 166.4 L182.7 157.6 L184.7 152 L187.2 151.7 L189.2 165.1 L190.5 170.1 L192.2 177.7 L193.5 171 L195.2 169.8 L197.5 131.5 L199.2 145.2 L200.9 146 L202.5 156.1 L204.2 147.7 L206.7 165.3 L209.5 142.5 L211.5 161 L213.75 141 L215.5 151 L217 132.5 L218.5 137.5 L220 128.75 L221.75 140 L224 137.5 L226 131 L227.5 125 L229.5 141 L231.5 137.5 L233.75 137.5 L235.5 120 L237.5 132.5 L239.5 133.75 L242 148.75 L244.5 130 L246.5 141 L249 150 L251.25 160 L253 146 L255 125 L256.25 106 L258 112.5 L261.25 87.5 L263 86 L265.5 110 L267 121 L268.5 111 L270.5 121 L272.5 122 L274.25 116 L275.75 119 L277.5 110 L279 85 L280.5 72.5 L282 85 L283.75 75 L285.5 57.5 L287 52.5 L288 35 L290.5 17 L291.5 40 L293.75 41 L296.25 47.5 L298.25 58.75 L300 51 L301.75 58.75 L304.5 72.5 L307 82.5 L308.75 92.5 L310.5 101 L312 93.75 L314 90 L315.75 73.75 L317 71 L318.25 57.5 L320 75 L321.5 88.75 L323 82.5 L324.25 81 L325.75 86 L327.5 100 L328.5 120 L328.75 146 L330 125 L331.75 137.5 L333.5 131 L335 151 L336.5 135 L338 138.75 L339.5 140 L340.75 145 L342 147.5 L343.75 158.75 L345.5 168.75 L347.5 173.75 L349.25 187.5 L350.5 197.5 L353 211 L354.5 195 L356.25 207.5 L358 210 L360.5 221 L363 203.75 L364.25 207.5 L366 192.5 L367.5 201 L369.5 188.75 L371.5 181 L373.5 187.5 L375 191 L376.75 203.75 L378.5 218.75 L380 216 L382 223.75 L383.75 227.5 L385.5 225 L387.5 235 L389 220 L391 227.5 L393.75 220 L395.5 225 L398 230 L400.75 254.5 L403 232.5 L405.5 242.5 L408.25 250 L410.75 240 L414 227.5 L415.75 231 L418 227.5 L420 238.75 L421.75 245 L423.75 232.5 L425.5 218.75 L427 231 L428.75 213.75 L431.25 210 L434.25 219.5 L436.25 210 L438.75 196 L440 205 L442 203.75 L443.75 205 L445.5 201 L448 197 L449.5 203.75 L451.5 201 L453.75 212.5 L455.75 230 L457 197.5 L457.5 230 L458.5 281 L460 260 L462 265 L464.25 245 L466.25 248.75 L469.25 212.5 L471 225 L473.25 247.5 L475.5 232.5 L477 195 L479.5 187.5 L481.25 192 L484.25 208 L486.5 197 L488.5 203.75 L490.5 191 L492.5 186 L495 180 L497 186 L500 172.5 L501.5 181 L503 171 L504.5 183.75 L505.5 191 L506.25 167.5 L507 141 L508.75 148.75 L510.5 155 L512.5 163.75 L515 152.5 L516.75 156 L518.25 153.75 L520 162.5 L521.75 167.5 L523.25 165 L524.5 173.75 L526.25 161 L528 154.5 L530 157.5 L531.5 156 L533.25 153 L535 158.75 L536.25 162 L537.5 161 L538.75 176 L540.5 182.5 L542.5 187.5 L544.25 191 L545 186 L546.25 190 L548 195 L549.5 196 L551.25 203.75 L552.5 211 L554.25 200 L555.75 202.5 L558 201 L559.5 208.75 L561.25 214.5 L563.75 215 L565.75 206 L568.75 197 L570.75 205 L572.5 210 L574.5 209.5 L577 213.75 L579 217.5 L580.75 226 L582.5 223.75 L584.5 220 L587 232 L588.25 228.75 L590 208.75 L591.75 218.75 L593.25 226 L595 236 L597 228.75 L598.75 220 L601.25 205 L603 216 L605 230 L607.5 241 L609.5 233.75 L612 232.5 L614.25 242.5 L616.25 230 L618 220 L620 208.75 L621.25 222.5 L623.25 237.5 L625 228.75 L627.5 218.75 L629.5 226 L631.25 221 L634.25 213.75 L637 221 L639.5 226 L642 234.5 L644.25 226 L646.25 221 L648.25 215 L650.5 211 L652.5 212.5 L655 220.5 L657 210 L659 203.75 L660.5 205 L662.5 193.75 L664.5 203.75 L666.25 197.5 L668.25 183 L669.5 183.75 L670.75 191 L672.5 196 L674.5 197.5 L676.25 200 L678 205 L680 200 L682.5 208 L684.5 203.75 L686.25 198 L688 199.5 L690 197 L692 196 L693 185.5 L694.5 181 L696.25 173.75 L697.5 162.5 L699 161 L700.5 145 L702.5 131 L704.25 138.75 L705.75 151 L707.5 145 L708.75 141 L710.5 152.5 L712 160 L714.5 160 L716.75 165 L719.25 173 L721.25 152.5 L723.25 147.5 L725.5 147 L727 130 L728.25 131 L730 151 L731.75 152 L733.75 134.5 L735 143.75 L737 141 L739.5 132.5 L741.5 142.5 L743.75 112.5 L745.5 107 L747.5 116 L749.25 120 L750.75 115 L752.5 121 L754.25 129.5 L756.75 127.5 L758.75 135 L760.75 147.5 L762.5 159.5 L765 142.5 L768 132 L770 145 L771.75 159.5 L773.75 142.5 L775.5 133.75 L777 129.5 L778.75 137.5 L781.25 151 L783.75 135 L785.75 139.5 L788 127.5 L790 123.75 L791.5 125 L793.25 112.5 L795 114.5 L796.75 125 L798.75 115 L800.5 97.5 L802 93.75 L803.75 98.75 L805.5 108.75 L807.5 115 L809.25 123.75 L811.25 135 L813 137.5 L815 146 L817.5 141 L820 136 L822 145 L823.75 138.75 L825.5 145 L827.5 145 L830 148.75 L832 147.5 L834.5 161 L836.75 151 L838.75 147 L841.25 167.5 L843.25 151 L845.5 148.75 L848 136 L850 145 L852 138.75 L853.75 138.75 L855.5 162.5 L857.5 168.75 L858.75 171 L860.5 153.75 L862.5 162.5 L864.5 166 L866.25 172.5 L868 167.5 L870 176 L871.25 172.5 L873 183.75 L874.5 187.8 L875.2 197.7 L876.4 191.6 L878.3 192.4 L879 186.3 L880.5 180.2 L882.4 174.4 L884.3 179.5 L885.9 184.8 L886.6 187.8 L888.9 194.7 L890.4 203 L891.5 212.2 L892.4 201.5 L895.7 193.9 L898.8 190.9 L899.9 195.4 L901.4 206 L902.6 195.4 L904.1 189.3 L905.6 185.5 L906.9 184 L907.9 188.6 L909 190 L910.2 186.3 L911.3 184.8 L912.5 188.6 L914 193.9 L916.3 203 L918.6 210.6 L919.5 212" fill="none" stroke="#ea3943" stroke-width="2.7" stroke-linejoin="round" stroke-linecap="round" clip-path="url(#cd)"/>
<!-- left label -->
<rect x="1.2" y="176.5" width="65.8" height="27.5" fill="url(#lb)"/>
<text x="7.25" y="195.95" font-size="14.3" font-weight="400" fill="#5f6b82" stroke="#5f6b82" stroke-width="0.4" textLength="54" lengthAdjust="spacingAndGlyphs">0.02245</text>
<!-- y labels -->
<g font-size="14.4" fill="#7f899c" stroke="#7f899c" stroke-width="0.5" font-weight="400">
<text x="926.5" y="79.4" textLength="47" lengthAdjust="spacingAndGlyphs">0.0240</text>
<text x="926.5" y="152.4" textLength="47" lengthAdjust="spacingAndGlyphs">0.0230</text>
<text x="926.5" y="298.4" textLength="44.6" lengthAdjust="spacingAndGlyphs">0.0210</text>
<text x="926.5" y="371.4" textLength="47" lengthAdjust="spacingAndGlyphs">0.0200</text>
</g>
<!-- price tag -->
<rect x="919" y="196" width="60" height="31.4" rx="3" ry="3" fill="#ea3943"/>
<text x="926.8" y="217.85" font-size="14.8" font-weight="700" fill="#ffffff" stroke="#ffffff" stroke-width="0.25" textLength="43.8" lengthAdjust="spacingAndGlyphs">0.0221</text>
<text x="935" y="429.8" font-size="15.2" font-weight="700" fill="#76819a" textLength="30.6" lengthAdjust="spacingAndGlyphs">USD</text>
<!-- x labels -->
<g font-size="14" fill="#7f899c" stroke="#7f899c" stroke-width="0.45" text-anchor="middle" font-weight="400">
<text x="91.2" y="454.6">10 Feb</text>
<text x="222" y="454.6" textLength="39.9" lengthAdjust="spacingAndGlyphs">11 Feb</text>
<text x="354.1" y="454.6">12 Feb</text>
<text x="485" y="454.6">13 Feb</text>
<text x="616" y="454.6">14 Feb</text>
<text x="747.8" y="454.6">15 Feb</text>
<text x="879.1" y="454.6">16 Feb</text>
</g>
</svg>
</body></html>
